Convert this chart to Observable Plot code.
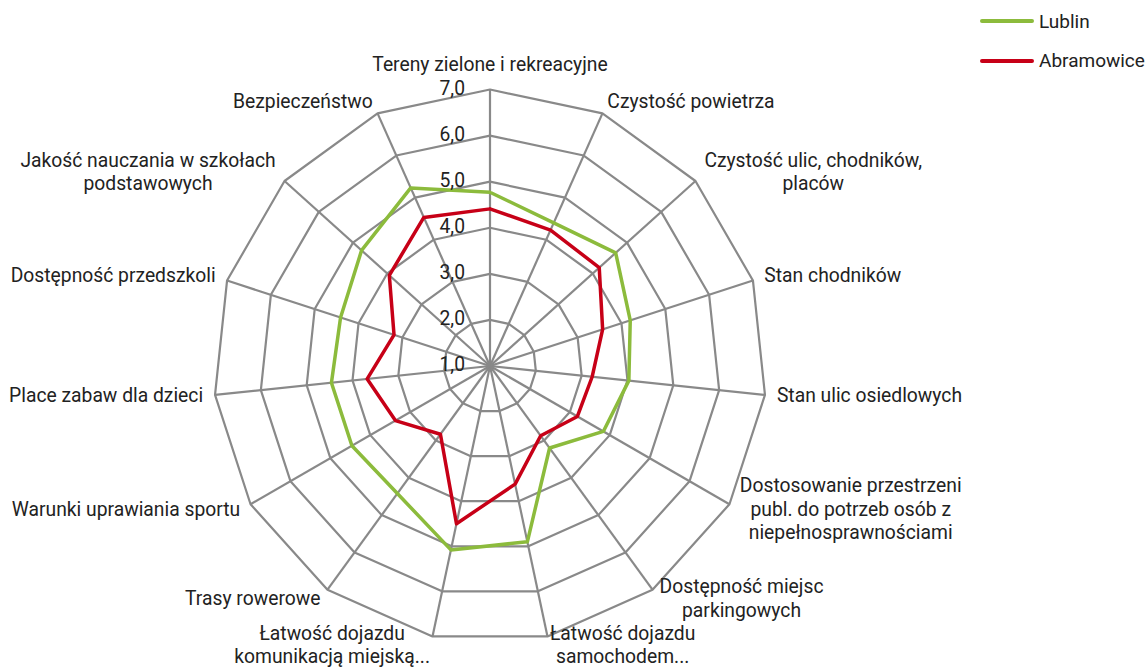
<!DOCTYPE html>
<html><head><meta charset="utf-8">
<script src="https://cdn.jsdelivr.net/npm/d3@7"></script>
<script src="https://cdn.jsdelivr.net/npm/@observablehq/plot@0.6"></script>
<style>
body{margin:0;background:#fff;font-family:Roboto, sans-serif;}
#wrap{position:relative;width:1146px;height:669px;}
#legend{position:absolute;left:980px;top:0;font-size:19px;color:#222;}
.row{position:absolute;left:0;display:flex;align-items:center;white-space:nowrap;height:20px;}
.sw{width:54px;height:4px;border-radius:2px;margin-right:5px;}
</style></head><body><div id="wrap"><div id="legend"></div></div>
<script>
const categories = [
  "Tereny zielone i rekreacyjne",
  "Czystość powietrza",
  "Czystość ulic, chodników,\nplaców",
  "Stan chodników",
  "Stan ulic osiedlowych",
  "Dostosowanie przestrzeni\npubl. do potrzeb osób z\nniepełnosprawnościami",
  "Dostępność miejsc\nparkingowych",
  "Łatwość dojazdu\nsamochodem...",
  "Łatwość dojazdu\nkomunikacją miejską...",
  "Trasy rowerowe",
  "Warunki uprawiania sportu",
  "Place zabaw dla dzieci",
  "Dostępność przedszkoli",
  "Jakość nauczania w szkołach\npodstawowych",
  "Bezpieczeństwo"
];
const seriesNames = ["Lublin", "Abramowice"];
const seriesColors = ["#8cbb3c", "#c70017"];
const lublin =     [4.77, 4.40, 4.67, 4.20, 4.03, 3.84, 3.20, 4.90, 5.08, 4.42, 4.46, 4.46, 4.41, 4.75, 5.23];
const abramowice = [4.41, 4.23, 4.19, 3.57, 3.23, 3.19, 2.87, 3.62, 4.50, 2.83, 3.37, 3.68, 3.19, 3.94, 4.53];
const tickValues = [1, 2, 3, 4, 5, 6, 7];
const tickLabels = ["1,0", "2,0", "3,0", "4,0", "5,0", "6,0", "7,0"];

// layout
const W = 1146, H = 669;
const cx = 489.5, cy = 365.5, unit = 46.08;
const vMin = tickValues[0], vMax = tickValues[tickValues.length - 1];
const FONT = "Roboto", FS = 19.3, LH = 23.5 / 19.3;
const n = categories.length;
const ang = i => (i * 2 * Math.PI) / n;
const pt = (i, v) => ({x: (v - vMin) * Math.sin(ang(i)), y: (v - vMin) * Math.cos(ang(i))});

// grid rings
const rings = [];
tickValues.slice(1).forEach(t => {
  for (let i = 0; i <= n; i++) rings.push({t, ...pt(i % n, t)});
});
const spokes = categories.map((c, i) => ({x1: 0, y1: 0, x2: pt(i, vMax).x, y2: pt(i, vMax).y}));

// series
const series = [];
[lublin, abramowice].forEach((vals, s) => {
  for (let i = 0; i <= n; i++) series.push({name: seriesNames[s], ...pt(i % n, vals[i % n])});
});

// category labels placement (measured)
const ctx = document.createElement("canvas").getContext("2d");
ctx.font = `${FS}px ${FONT}`;
const pad = 12;
const labels = categories.map((c, i) => {
  const lines = c.split("\n");
  const w = Math.max(...lines.map(l => ctx.measureText(l).width));
  const h = lines.length * FS * LH;
  const s = Math.sin(ang(i)), co = Math.cos(ang(i));
  const R = (vMax - vMin) * unit;
  const vx = cx + R * s, vy = cy - R * co;
  let px, py;
  if (Math.abs(s) < 0.05) {
    px = vx; py = vy - (co > 0 ? 1 : -1) * (pad + h / 2);
  } else {
    px = vx + pad * s + Math.sign(s) * w / 2;
    py = vy - pad * co;
  }
  py = Math.min(py, H - h / 2);
  py = Math.max(py, h / 2);
  return {text: c, x: (px - cx) / unit, y: (cy - py) / unit};
});

const ticks = tickValues.map((t, k) => ({x: 0, y: t - vMin, label: tickLabels[k]}));

const chart = Plot.plot({
  width: W, height: H,
  marginTop: 0, marginRight: 0, marginBottom: 0, marginLeft: 0,
  style: {fontFamily: FONT, fontSize: FS + "px", background: "white"},
  x: {domain: [-cx / unit, (W - cx) / unit], range: [0, W], axis: null},
  y: {domain: [(cy - H) / unit, cy / unit], range: [H, 0], axis: null},
  color: {domain: seriesNames, range: seriesColors},
  marks: [
    Plot.link(spokes, {x1: "x1", y1: "y1", x2: "x2", y2: "y2", stroke: "#898989", strokeWidth: 2.2}),
    Plot.line(rings, {x: "x", y: "y", z: "t", stroke: "#898989", strokeWidth: 2.2, strokeLinejoin: "miter"}),
    Plot.line(series, {x: "x", y: "y", z: "name", stroke: "name", strokeWidth: 3.5, strokeLinejoin: "round"}),
    Plot.text(ticks, {x: "x", y: "y", text: "label", textAnchor: "end", dx: -25, dy: -1, fill: "#222", fontSize: FS}),
    Plot.text(labels, {x: "x", y: "y", text: "text", textAnchor: "middle", lineAnchor: "middle", lineHeight: LH, dy: -2, fill: "#222", fontSize: FS})
  ]
});
const wrap = document.getElementById("wrap");
wrap.insertBefore(chart, wrap.firstChild);

const legend = document.getElementById("legend");
seriesNames.forEach((name, k) => {
  const row = document.createElement("div");
  row.className = "row";
  row.style.top = (11 + k * 39.7) + "px";
  const sw = document.createElement("div");
  sw.className = "sw";
  sw.style.background = seriesColors[k];
  const tx = document.createElement("span");
  tx.textContent = name;
  row.appendChild(sw); row.appendChild(tx);
  legend.appendChild(row);
});
</script>
</body></html>
